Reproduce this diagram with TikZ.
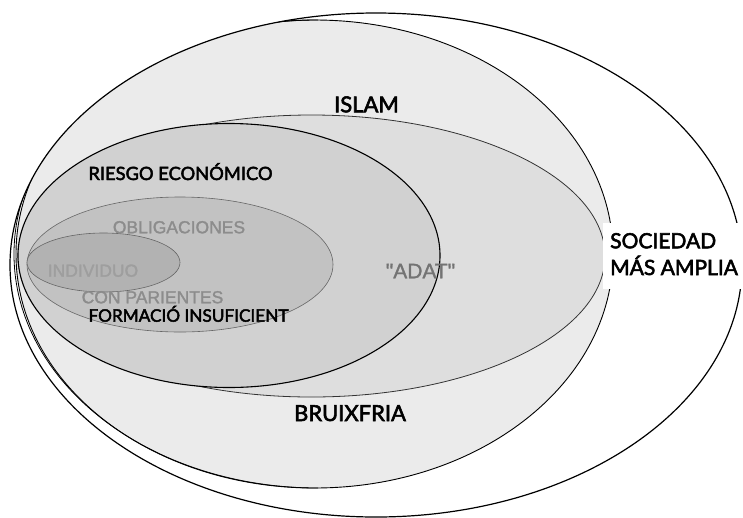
\documentclass[tikz,border=0pt]{standalone}
\usepackage{fontspec}
\setmainfont{Lato}
\newfontfamily\lblfont{Lato}[FakeBold=2.6]
\newfontfamily\arialf{Liberation Sans}[FakeBold=1.5]
\definecolor{gA}{gray}{0.92}
\definecolor{gB}{gray}{0.87}
\definecolor{gC}{gray}{0.82}
\definecolor{gD}{gray}{0.76}
\definecolor{gE}{gray}{0.70}
\definecolor{txtgrey}{gray}{0.55}
\tikzset{
  blacklabel/.style={inner sep=0pt, anchor=base, text=black},
  greylabel/.style={inner sep=0pt, anchor=base, text=txtgrey, font=\arialf\fontsize{17.5}{20}\selectfont},
}
\begin{document}
\begin{tikzpicture}[x=1pt,y=-1pt]
\useasboundingbox (0,0) rectangle (743,517);
\begin{scope}
\clip (0,0) rectangle (743,517);
% society
\fill[white] (376,265) ellipse [x radius=366, y radius=252];
\begin{scope}
\clip (376,265) ellipse [x radius=366, y radius=252];
% bruixeria region
\draw[line width=0.9pt, fill=gA] (314.5,254) ellipse [x radius=298.5, y radius=234];
\draw[line width=0.8pt] (318,488) arc[start angle=90, end angle=270, x radius=304, y radius=234];
\end{scope}
\draw[line width=1.2pt] (376,265) ellipse [x radius=366, y radius=252];
\end{scope}
% islam
\draw[line width=0.8pt, draw=black!80, fill=gB] (311.5,256) ellipse [x radius=293.5, y radius=141];
% adat
\draw[line width=1.1pt, fill=gC] (229,255.5) ellipse [x radius=211, y radius=132];
% obligaciones
\draw[line width=0.6pt, draw=black!60, fill=gD] (180,264.5) ellipse [x radius=153, y radius=67.5];
% individuo
\draw[line width=0.6pt, draw=black!60, fill=gE] (103.5,262.5) ellipse [x radius=76.5, y radius=29.5];
% white box behind label
\fill[white] (603,223) rectangle (743,289);
% labels
\node[blacklabel, font=\lblfont\fontsize{22}{24}\selectfont] (islam) at (366.5,112.3) {ISLAM};
\node[blacklabel, font=\lblfont\fontsize{22}{24}\selectfont] (bruix) at (350,421) {BRUIXFRIA};
\node[blacklabel, anchor=base west, font=\lblfont\fontsize{21}{24}\selectfont] (soc1) at (610,248.3) {SOCIEDAD};
\node[blacklabel, anchor=base west, font=\lblfont\fontsize{21}{24}\selectfont] (soc2) at (610,275) {MÁS AMPLIA};
\node[blacklabel, font=\lblfont\fontsize{18.3}{22}\selectfont] (riesgo) at (180.5,180) {RIESGO ECONÓMICO};
\node[blacklabel, font=\lblfont\fontsize{17.2}{22}\selectfont] (formacio) at (188.5,321.7) {FORMACIÓ INSUFICIENT};
\node[greylabel] (oblig) at (179,233.3) {OBLIGACIONES};
\node[greylabel, text=black!38] (indiv) at (93,276.7) {INDIVIDUO};
\node[greylabel] (conpar) at (152.5,303.3) {CON PARIENTES};
\node[greylabel, text=black!55, font=\arialf\fontsize{21}{24}\selectfont] (adat) at (420.5,278.3) {"ADAT"};
\end{tikzpicture}
\end{document}
